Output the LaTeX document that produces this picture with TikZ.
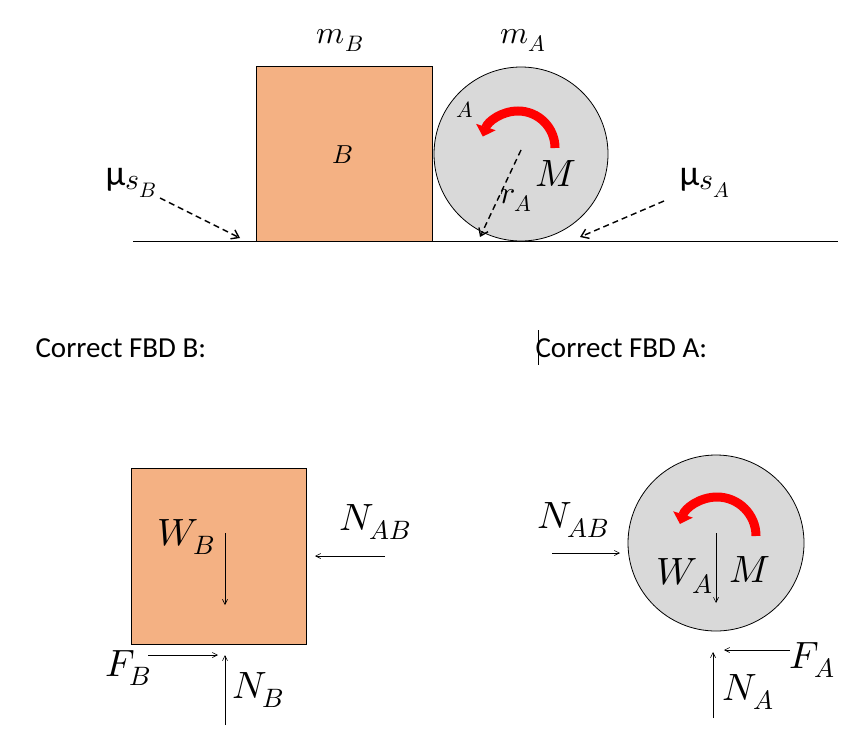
\documentclass[tikz,border=0pt]{standalone}
\usepackage{fontspec}
\usepackage{unicode-math}
\setmathfont{Latin Modern Math}
\setsansfont{Carlito}
\usetikzlibrary{arrows.meta}
\definecolor{boxc}{RGB}{244,177,131}
\definecolor{circc}{RGB}{217,217,217}
\tikzset{
 lbl/.style={font=\fontsize{38}{40}\selectfont},
 slbl/.style={font=\fontsize{32}{34}\selectfont},
 force/.style={-{Straight Barb[length=5pt,width=5pt]},line width=0.6pt},
 dasharr/.style={dash pattern=on 6pt off 4pt,-{Straight Barb[length=7pt,width=10pt]},line width=1.4pt},
 moment/.style={red,line width=9pt,-{Triangle[length=10pt,width=20pt]}},
 body/.style={draw,line width=0.8pt},
}
\begin{document}
\begin{tikzpicture}[x=1pt,y=-1pt]
\useasboundingbox (0,0) rectangle (858,747);
% top
\draw[line width=1pt] (133,241) -- (838,241);
\draw[body,fill=boxc] (256,66) rectangle (432,241);
\node[body,circle,fill=circc,minimum size=174pt,inner sep=0pt] (cA) at (521,154) {};
\node[slbl] (mB) at (340,40) {$m_B$};
\node[slbl] (mA) at (523,40) {$m_A$};
\node[font=\fontsize{26}{28}\selectfont] (B) at (343,155) {$B$};
\node[font=\fontsize{22}{24}\selectfont] (A) at (465,110) {$A$};
\draw[moment] (555,148) arc[start angle=0,end angle=-162,radius=37];
\node[lbl] (M1) at (556,174) {$M$};
\coordinate (c0) at (521,150);
\coordinate (c1) at (480,237);
\draw[dasharr] (c0) -- (c1);
\node[slbl] (rA) at (516,200) {$r_A$};
\node[font=\sffamily\fontsize{36}{38}\selectfont,anchor=east] (muB) at (160,183) {µ\raisebox{-4pt}{\fontsize{30}{32}\selectfont$s_B$}};
\node[font=\sffamily\fontsize{36}{38}\selectfont,anchor=west] (muA) at (676,183) {µ\raisebox{-4pt}{\fontsize{30}{32}\selectfont$s_A$}};
\coordinate (gB) at (240,238);
\coordinate (gA) at (580,237);
\draw[dasharr] (160,198) -- (gB);
\draw[dasharr] (664,201) -- (gA);
% captions
\node[font=\sffamily\fontsize{29}{32}\selectfont,anchor=west] (capB) at (32,348) {Correct FBD B:};
\node[font=\sffamily\fontsize{29}{32}\selectfont,anchor=west] (capA) at (532,348) {Correct FBD A:};
\draw[line width=0.8pt] (538,330) -- (538,365);
% FBD B
\draw[body,fill=boxc] (131,468) rectangle (306,644);
\node[lbl] (WB) at (186,537) {$W_B$};
\draw[force] (225,533) -- (225,605);
\node[lbl] (NAB1) at (375,522) {$N_{AB}$};
\draw[force] (385,556) -- (315,556);
\node[lbl] (FB) at (128,668) {$F_B$};
\draw[force] (148,655) -- (218,655);
\draw[force] (225,725) -- (225,655);
\node[lbl] (NB) at (258,690) {$N_B$};
% FBD A
\node[body,circle,fill=circc,minimum size=176pt,inner sep=0pt] (cA2) at (716,543) {};
\draw[moment] (756,536) arc[start angle=0,end angle=-162,radius=39];
\draw[force] (716,533) -- (716,603);
\node[lbl] (WA) at (685,576) {$W_A$};
\node[lbl] (M2) at (750,570) {$M$};
\node[lbl] (NAB2) at (573,520) {$N_{AB}$};
\draw[force] (552,553) -- (620,553);
\draw[force] (790,650) -- (724,650);
\node[lbl] (FA) at (812,660) {$F_A$};
\draw[force] (713,718) -- (713,652);
\node[lbl] (NA) at (748,692) {$N_A$};
\end{tikzpicture}
\end{document}
